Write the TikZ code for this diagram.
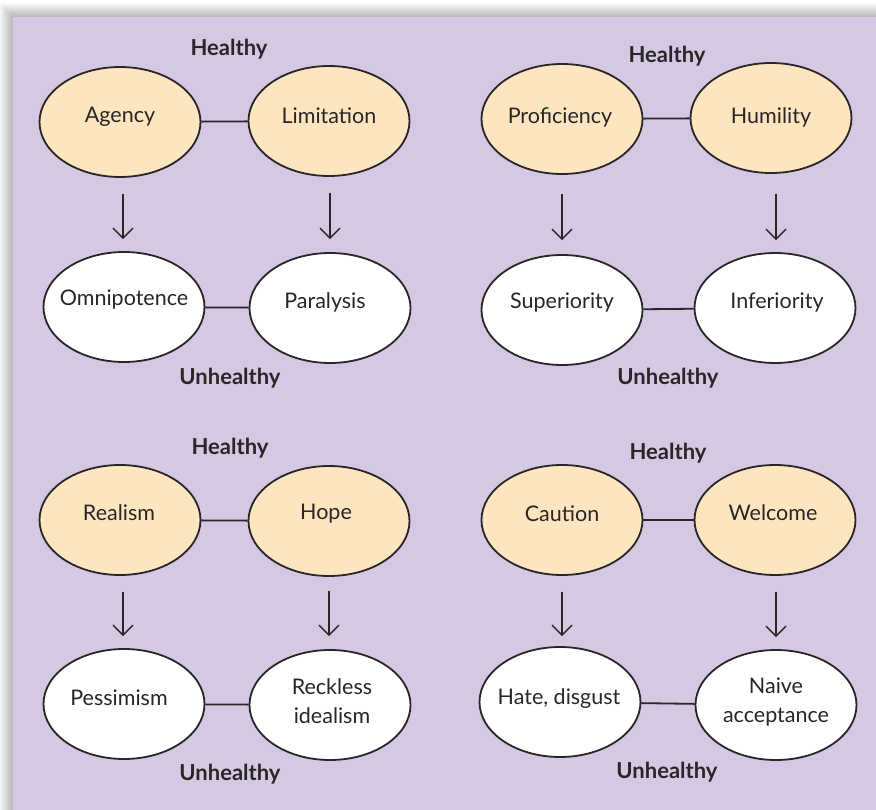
\documentclass[tikz,border=0pt]{standalone}
\usepackage{fontspec}
\setmainfont{Lato}
\usetikzlibrary{shapes.geometric,arrows.meta,calc}
\definecolor{bgpurple}{HTML}{D4C8E2}
\definecolor{healthfill}{HTML}{FDE5BF}
\definecolor{ink}{HTML}{2A2627}
\tikzset{
  ell/.style={ellipse,draw=ink,line width=1.8pt,minimum width=161pt,minimum height=110pt,inner sep=0pt},
  good/.style={ell,fill=healthfill},
  bad/.style={ell,fill=white},
  lbl/.style={text=ink,font=\fontsize{21.5}{29}\selectfont,align=center,inner sep=0pt},
  head/.style={text=ink,font=\bfseries\fontsize{22}{26}\selectfont,inner sep=0pt},
  link/.style={draw=ink,line width=1.8pt},
  arr/.style={draw=ink,line width=1.4pt,-{Straight Barb[length=10pt,width=20pt,line width=1.4pt]}}
}
\begin{document}
\begin{tikzpicture}[x=1pt,y=-1pt]
\useasboundingbox (0,0) rectangle (876,810);
\fill[white] (0,0) rectangle (876,810);
\foreach \i in {1,...,14} {
  \fill[black,opacity=0.018] (13-\i,17-\i) rectangle (876,810);
}
\fill[bgpurple] (13,17) rectangle (876,810);

% ---------- Panel 1 ----------
\node[head] (h1) at (229,49) {Healthy};
\node[good] (agency) at (120,122) {};
\node[lbl] (tagency) at (120,117) {Agency};
\node[good] (limit) at (329,121) {};
\node[lbl] (tlimit) at (329,116) {Limitation};
\node[bad] (omni) at (124,307) {};
\node[lbl] (tomni) at (124,300) {Omnipotence};
\node[bad] (para) at (330,308) {};
\node[lbl] (tpara) at (325,302) {Paralysis};
\node[head] (u1) at (230,378) {Unhealthy};
\draw[link] (agency) -- (limit);
\draw[link] (omni) -- (para);
\draw[arr] ($(agency.south)+(3,16)$) -- ($(omni.north)+(-1,-12)$);
\draw[arr] ($(limit.south)+(1,16)$) -- ($(para.north)+(0,-13)$);

% ---------- Panel 2 ----------
\node[head] (h2) at (667,56) {Healthy};
\node[good] (prof) at (562,119) {};
\node[lbl] (tprof) at (560,117) {Proficiency};
\node[good] (humil) at (771,118) {};
\node[lbl] (thumil) at (771,117) {Humility};
\node[bad] (super) at (562,310) {};
\node[lbl] (tsuper) at (562,303) {Superiority};
\node[bad] (infer) at (775,308) {};
\node[lbl] (tinfer) at (777,303) {Inferiority};
\node[head] (u2) at (668,378) {Unhealthy};
\draw[link] (prof) -- (humil);
\draw[link] (super) -- (infer);
\draw[arr] ($(prof.south)+(0,19)$) -- ($(super.north)+(0,-14)$);
\draw[arr] ($(humil.south)+(5,20)$) -- ($(infer.north)+(1,-12)$);

% ---------- Panel 3 ----------
\node[head] (h3) at (230,448) {Healthy};
\node[good] (real) at (120,520) {};
\node[lbl] (treal) at (119,513) {Realism};
\node[good] (hope) at (329,521) {};
\node[lbl] (thope) at (326,514) {Hope};
\node[bad] (pess) at (124,704) {};
\node[lbl] (tpess) at (119,698) {Pessimism};
\node[bad] (reck) at (330,705) {};
\node[lbl] (treck) at (332,701) {Reckless\\idealism};
\node[head] (u3) at (230,774) {Unhealthy};
\draw[link] (real) -- (hope);
\draw[link] (pess) -- (reck);
\draw[arr] ($(real.south)+(3,16)$) -- ($(pess.north)+(-1,-12)$);
\draw[arr] ($(hope.south)+(0,14)$) -- ($(reck.north)+(-1,-13)$);

% ---------- Panel 4 ----------
\node[head] (h4) at (668,453) {Healthy};
\node[good] (caut) at (562,520) {};
\node[lbl] (tcaut) at (562,514) {Caution};
\node[good] (welc) at (775,520) {};
\node[lbl] (twelc) at (773,513) {Welcome};
\node[bad] (hate) at (560,702) {};
\node[lbl] (thate) at (559,699) {Hate, disgust};
\node[bad] (naive) at (776,705) {};
\node[lbl] (tnaive) at (776,702) {Naive\\acceptance};
\node[head] (u4) at (667,772) {Unhealthy};
\draw[link] (caut) -- (welc);
\draw[link] (hate) -- (naive);
\draw[arr] ($(caut.south)+(0,16)$) -- ($(hate.north)+(2,-10)$);
\draw[arr] ($(welc.south)+(1,16)$) -- ($(naive.north)+(0,-12)$);
\end{tikzpicture}
\end{document}
